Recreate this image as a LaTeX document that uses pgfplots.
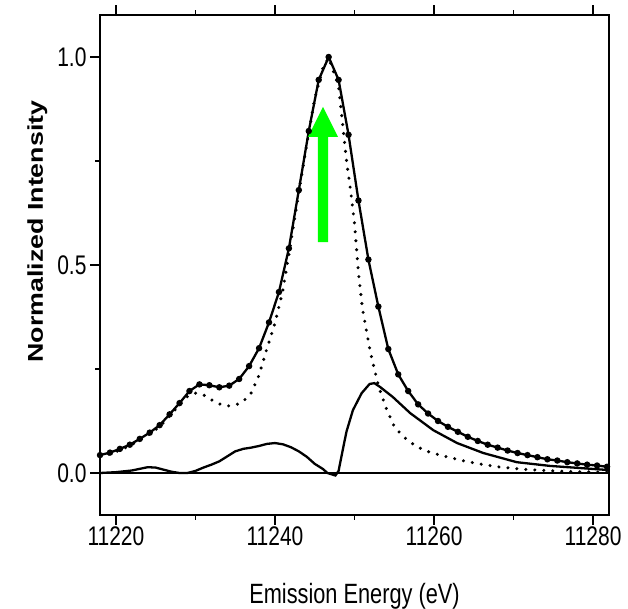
\documentclass[border=0pt]{standalone}
\usepackage{fontspec}
\setmainfont{Liberation Sans}[FakeStretch=0.78]
\newfontfamily\ylabfont{Liberation Sans}[FakeStretch=1.25]
\usepackage{pgfplots}
\pgfplotsset{compat=1.18}
\definecolor{arrowgreen}{RGB}{0,255,0}

% measured spectrum (solid line with dots)
\pgfplotstableread{
E I
11218.00 0.043
11219.25 0.049
11220.50 0.058
11221.75 0.068
11223.00 0.082
11224.25 0.097
11225.50 0.115
11226.75 0.141
11228.00 0.168
11229.25 0.197
11230.50 0.213
11231.75 0.211
11233.00 0.206
11234.25 0.210
11235.50 0.226
11236.75 0.257
11238.00 0.300
11239.25 0.362
11240.50 0.435
11241.75 0.540
11243.00 0.680
11244.25 0.822
11245.50 0.945
11246.75 1.000
11248.00 0.945
11249.25 0.813
11250.50 0.655
11251.75 0.513
11253.00 0.400
11254.25 0.298
11255.50 0.237
11256.75 0.197
11258.00 0.165
11259.25 0.143
11260.50 0.125
11261.75 0.111
11263.00 0.099
11264.25 0.087
11265.50 0.077
11266.75 0.068
11268.00 0.061
11269.25 0.054
11270.50 0.048
11271.75 0.043
11273.00 0.038
11274.25 0.033
11275.50 0.030
11276.75 0.026
11278.00 0.023
11279.25 0.020
11280.50 0.018
11281.75 0.015
}\measured

% fitted main line (dotted)
\pgfplotstableread{
E I
11218 0.040
11219 0.045
11220 0.051
11221 0.059
11222 0.068
11223 0.079
11224 0.091
11225 0.104
11226 0.121
11227 0.142
11228 0.164
11229 0.184
11230 0.192
11231 0.188
11232 0.176
11233 0.166
11234 0.161
11235 0.163
11236 0.172
11237 0.192
11238 0.235
11239 0.300
11240 0.360
11241 0.440
11242 0.555
11243 0.675
11244 0.790
11245 0.900
11246 0.972
11246.75 0.998
11248 0.930
11249 0.750
11249.5 0.680
11250 0.600
11250.5 0.480
11251 0.395
11252 0.290
11253 0.210
11254 0.155
11255 0.112
11256 0.090
11257 0.074
11258 0.062
11259 0.053
11260 0.047
11262 0.037
11264 0.028
11266 0.021
11268 0.015
11270 0.011
11272 0.008
11275 0.005
11278 0.003
11282 0.002
}\fitted

% difference (solid)
\pgfplotstableread{
E I
11218 0.000
11220 0.002
11222 0.006
11223 0.010
11224 0.014
11225 0.013
11226 0.008
11227 0.003
11228 0.000
11229 0.000
11230 0.005
11231 0.013
11232 0.020
11233 0.028
11234 0.040
11235 0.052
11236 0.058
11237 0.061
11238 0.065
11239 0.070
11240 0.072
11241 0.069
11242 0.062
11243 0.052
11244 0.039
11245 0.022
11246 0.010
11246.6 0.000
11247.6 -0.006
11248.0 0.005
11248.6 0.063
11249 0.100
11249.8 0.151
11250.9 0.192
11251.9 0.214
11252.5 0.216
11253.2 0.207
11254.8 0.183
11257 0.144
11259.9 0.103
11262.9 0.072
11266.2 0.048
11270.4 0.026
11274.6 0.017
11282 0.007
}\difference

\begin{document}
\begin{tikzpicture}
\begin{axis}[
  name=ax,
  scale only axis,
  width=509bp, height=499.2bp,
  xmin=11218, xmax=11282,
  ymin=-0.1, ymax=1.1,
  xtick={11220,11240,11260,11280},
  minor xtick={11230,11250,11270},
  ytick={0,0.5,1},
  minor ytick={0.25,0.75},
  xtick pos=both, ytick pos=left,
  tick align=outside,
  major tick length=10bp, minor tick length=5bp,
  every tick/.style={black, line width=1.5bp},
  axis line style={line width=2bp},
  scaled x ticks=false,
  tick label style={font=\fontsize{27}{27}\selectfont},
  /pgf/number format/assume math mode=true,
  x tick label style={/pgf/number format/1000 sep={}, yshift=1bp},
  y tick label style={/pgf/number format/.cd, fixed, fixed zerofill, precision=1},
  xlabel={Emission Energy (eV)},
  ylabel={\ylabfont\bfseries Normalized Intensity},
  xlabel style={font=\fontsize{28}{28}\selectfont, at={(axis description cs:0.5,-0.178)}, anchor=base},
  ylabel style={font=\fontsize{21.5}{21.5}\selectfont, at={(axis description cs:-0.112,0.567)}, anchor=base},
]
  % zero line
  \addplot[black, line width=2.6bp] coordinates {(11218,0) (11282,0)};
  % fit
  \addplot[black, line width=3.4bp, dash pattern=on 0bp off 9bp, line cap=round] table {\fitted};
  % data
  \addplot[black, line width=2.3bp, mark=*, mark size=2bp, mark options={solid}] table {\measured};
  % difference
  \addplot[black, line width=2.3bp] table {\difference};
  % green arrow
  \fill[arrowgreen] (axis cs:11245.41,0.555) -- (axis cs:11245.41,0.808)
    -- (axis cs:11244.15,0.808) -- (axis cs:11246.04,0.880)
    -- (axis cs:11247.92,0.808) -- (axis cs:11246.67,0.808)
    -- (axis cs:11246.67,0.555) -- cycle;
\end{axis}
\pgfresetboundingbox
\path ([shift={(-100bp,-94.4bp)}]ax.south west) rectangle ([shift={(19bp,15.4bp)}]ax.north east);
\end{tikzpicture}
\end{document}
